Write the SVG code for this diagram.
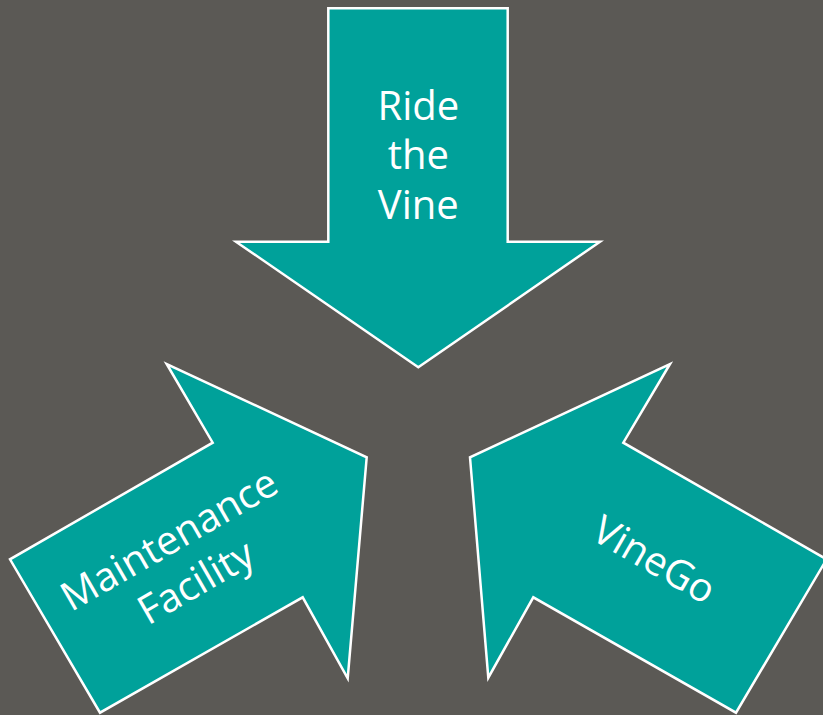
<svg xmlns="http://www.w3.org/2000/svg" width="823" height="715" viewBox="0 0 823 715">
<style>
.arrow{fill:#00a19a;stroke:#ffffff;stroke-width:2.5;stroke-linejoin:miter}
.lbl{font-family:"Open Sans","DejaVu Sans",sans-serif;font-size:40px;fill:#ffffff;text-anchor:middle}
</style>
<rect width="823" height="715" fill="#5b5955"/>
<g id="ride-the-vine">
<polygon class="arrow" points="328.3,8.3 507.7,8.3 507.7,241.7 600,241.7 418.3,367.3 236,241.7 328.3,241.7"/>
<text class="lbl" x="418.3" y="120">Ride</text>
<text class="lbl" x="418.3" y="169">the</text>
<text class="lbl" x="418.3" y="219">Vine</text>
</g>
<g id="maintenance-facility">
<polygon class="arrow" points="166.7,364 212.7,442.7 10,559.3 100,712.7 302.7,597.3 347.7,678.3 366.7,457.3"/>
<g transform="translate(176,551.7) rotate(-30)">
<text class="lbl" x="0" y="0">Maintenance</text>
<text class="lbl" x="2" y="50">Facility</text>
</g>
</g>
<g id="vinego">
<polygon class="arrow" points="670,364 623.3,442.7 826.6,559.3 736,712.7 533.3,597.3 488.3,677.7 470,457.3"/>
<g transform="translate(647.4,571.8) rotate(30)">
<text class="lbl" x="0" y="0">VineGo</text>
</g>
</g>
<g id="connectors"/>
</svg>
